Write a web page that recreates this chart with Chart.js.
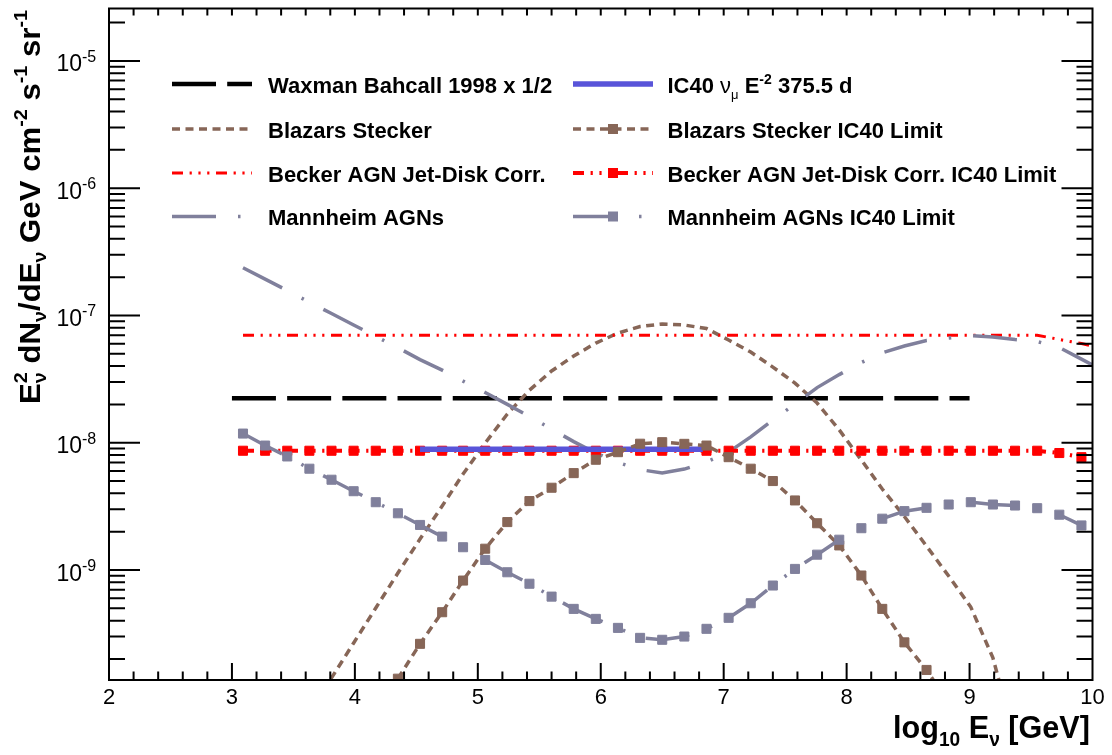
<!DOCTYPE html>
<html>
<head>
<meta charset="utf-8">
<title>IC40 AGN neutrino limits</title>
<script src="https://cdn.jsdelivr.net/npm/chart.js@4.4.1/dist/chart.umd.min.js"></script>
<style>
  html, body { margin: 0; padding: 0; background: #fff; overflow: hidden; }
  #wrap { width: 1112px; height: 755px; position: relative; }
</style>
</head>
<body>
<div id="wrap"><canvas id="fluxChart"></canvas></div>
<script>
// energy axis is log10(E / GeV); IC40 limits are given at these bin centres
const binCentres = [3.09, 3.27, 3.45, 3.63, 3.81, 3.99, 4.17, 4.35, 4.53, 4.71,
                    4.88, 5.06, 5.24, 5.42, 5.60, 5.78, 5.96, 6.14, 6.32, 6.50,
                    6.68, 6.86, 7.04, 7.22, 7.40, 7.58, 7.76, 7.94, 8.12, 8.29,
                    8.47, 8.65, 8.83, 9.01, 9.19, 9.37, 9.55, 9.73, 9.91];
// the model curves run on to the edge of the axis
const modelE = binCentres.concat([10.0]);

// Waxman Bahcall bound, halved
const wbE = [3.0, 9.0];
const wbFlux = [2.24e-8, 2.24e-8];

// IC40 numu E^-2 limit, 375.5 days
const ic40E = [4.53, 6.83];
const ic40Flux = [8.87e-9, 8.87e-9];

// E^2 dN/dE in GeV cm^-2 s^-1 sr^-1
const blazarsModel = [null, null, null, 7.5e-11, 1.42e-10, 2.67e-10, 5.03e-10, 9.47e-10, 1.75e-9, 3.18e-9,
                      5.68e-9, 9.95e-9, 1.68e-8, 2.59e-8, 3.66e-8, 4.80e-8, 6.07e-8, 7.27e-8, 8.18e-8, 8.56e-8,
                      8.41e-8, 7.89e-8, 6.41e-8, 5.16e-8, 3.93e-8, 2.94e-8, 2.05e-8, 1.26e-8, 7.31e-9, 4.33e-9,
                      2.63e-9, 1.54e-9, 8.97e-10, 5.12e-10, 2.04e-10, 4.6e-11, null, null, null];
const blazarsLimit = [null, null, null, null, null, null, null, 1.40e-10, 2.63e-10, 4.66e-10,
                      8.26e-10, 1.47e-9, 2.38e-9, 3.48e-9, 4.43e-9, 5.77e-9, 7.35e-9, 8.43e-9, 9.82e-9, 1.01e-8,
                      9.8e-9, 9.5e-9, 7.7e-9, 6.25e-9, 5.0e-9, 3.52e-9, 2.33e-9, 1.56e-9, 9.05e-10, 4.95e-10,
                      2.70e-10, 1.64e-10, 9.0e-11, null, null, null, null, null, null];
const beckerModel = [7.0e-8, 7.0e-8, 7.0e-8, 7.0e-8, 7.0e-8, 7.0e-8, 7.0e-8, 7.0e-8, 7.0e-8, 7.0e-8,
                     7.0e-8, 7.0e-8, 7.0e-8, 7.0e-8, 7.0e-8, 7.0e-8, 7.0e-8, 7.0e-8, 7.0e-8, 7.0e-8,
                     7.0e-8, 7.0e-8, 7.0e-8, 7.0e-8, 7.0e-8, 7.0e-8, 7.0e-8, 7.0e-8, 7.0e-8, 7.0e-8,
                     7.0e-8, 7.0e-8, 7.0e-8, 7.0e-8, 7.0e-8, 7.0e-8, 7.0e-8, 6.47e-8, 6.01e-8, 5.75e-8];
const beckerLimit = [8.65e-9, 8.65e-9, 8.65e-9, 8.65e-9, 8.65e-9, 8.65e-9, 8.65e-9, 8.65e-9, 8.65e-9, 8.65e-9,
                     8.65e-9, 8.65e-9, 8.65e-9, 8.65e-9, 8.65e-9, 8.65e-9, 8.65e-9, 8.65e-9, 8.65e-9, 8.65e-9,
                     8.65e-9, 8.65e-9, 8.65e-9, 8.65e-9, 8.65e-9, 8.65e-9, 8.65e-9, 8.65e-9, 8.65e-9, 8.65e-9,
                     8.65e-9, 8.65e-9, 8.65e-9, 8.65e-9, 8.65e-9, 8.65e-9, 8.65e-9, 8.3e-9, 7.7e-9];
const mannheimModel = [2.37e-7, 1.93e-7, 1.57e-7, 1.27e-7, 1.035e-7, 8.41e-8, 6.85e-8, 5.58e-8, 4.50e-8, 3.72e-8,
                       3.05e-8, 2.48e-8, 2.00e-8, 1.61e-8, 1.28e-8, 1.02e-8, 8.3e-9, 6.99e-9, 6.15e-9, 5.78e-9,
                       6.21e-9, 7.05e-9, 8.45e-9, 1.11e-8, 1.51e-8, 2.01e-8, 2.71e-8, 3.43e-8, 4.27e-8, 5.09e-8,
                       5.75e-8, 6.35e-8, 6.65e-8, 6.95e-8, 6.77e-8, 6.47e-8, 6.24e-8, 5.60e-8, 4.54e-8, 4.08e-8];
const mannheimLimit = [1.18e-8, 9.5e-9, 7.8e-9, 6.25e-9, 5.12e-9, 4.16e-9, 3.41e-9, 2.79e-9, 2.26e-9, 1.83e-9,
                       1.51e-9, 1.20e-9, 9.6e-10, 7.8e-10, 6.18e-10, 4.95e-10, 4.13e-10, 3.51e-10, 2.93e-10, 2.83e-10,
                       3.0e-10, 3.45e-10, 4.21e-10, 5.48e-10, 7.55e-10, 1.02e-9, 1.32e-9, 1.73e-9, 2.13e-9, 2.53e-9,
                       2.90e-9, 3.08e-9, 3.27e-9, 3.41e-9, 3.27e-9, 3.21e-9, 3.06e-9, 2.72e-9, 2.24e-9];

const seriesNames = ['Waxman Bahcall 1998 x 1/2', 'IC40 νμ E-2 375.5 d',
                     'Blazars Stecker', 'Blazars Stecker IC40 Limit',
                     'Becker AGN Jet-Disk Corr.', 'Becker AGN Jet-Disk Corr. IC40 Limit',
                     'Mannheim AGNs', 'Mannheim AGNs IC40 Limit'];

const xTickLabels = ['2', '3', '4', '5', '6', '7', '8', '9', '10'];
const yDecades = [1e-9, 1e-8, 1e-7, 1e-6, 1e-5];
const yTickExponents = ['-9', '-8', '-7', '-6', '-5'];

const FONT = '"Liberation Sans", Arial, Helvetica, sans-serif';
const BROWN = '#876657';
const RED = '#ff0000';
const GREY = '#80809c';
const BLUE = '#5954d9';
const dashBecker = [11, 6.6, 2.2, 6.6, 2.2, 6.6, 2.2, 6.6];
const dashMannheim = [44, 22, 2.5, 22];
const dashBlazars = [8, 5.5];

function points(xs, ys) {
  var out = [];
  for (var i = 0; i < ys.length; i++) {
    if (ys[i] !== null) out.push({ x: xs[i], y: ys[i] });
  }
  return out;
}

// draws text pieces along one baseline (sub/superscripts via dy), returns width
function drawRuns(ctx, runs, x, y, measureOnly) {
  var cx = x;
  for (const r of runs) {
    ctx.font = (r.bold === false ? '' : 'bold ') + r.size + 'px ' + FONT;
    if (!measureOnly) ctx.fillText(r.t, cx, y + (r.dy || 0));
    if (!r.stack) cx += ctx.measureText(r.t).width;
  }
  return cx - x;
}

const ic40Runs = [
  { t: 'IC40 ', size: 22 }, { t: 'ν', size: 22, bold: false }, { t: 'μ', size: 13, dy: 6, bold: false },
  { t: ' E', size: 22 }, { t: '-2', size: 14, dy: -9 }, { t: ' 375.5 d', size: 22 }
];
const xTitleRuns = [
  { t: 'log', size: 32 }, { t: '10', size: 20, dy: 8 }, { t: ' E', size: 32 },
  { t: 'ν', size: 20, dy: 8 }, { t: ' [GeV]', size: 32 }
];
const yTitleRuns = [
  { t: 'E', size: 30 }, { t: '2', size: 19, dy: -13, stack: true }, { t: 'ν', size: 19, dy: 6 },
  { t: ' dN', size: 30 }, { t: 'ν', size: 19, dy: 6 }, { t: '/dE', size: 30 }, { t: 'ν', size: 19, dy: 6 },
  { t: ' GeV cm', size: 30 }, { t: '-2', size: 19, dy: -13 }, { t: ' s', size: 30 },
  { t: '-1', size: 19, dy: -13 }, { t: ' sr', size: 30 }, { t: '-1', size: 19, dy: -13 }
];

// frame, inward ticks, labels and titles
const frameAndText = {
  id: 'frameAndText',
  afterDraw(chart) {
    const ctx = chart.ctx, a = chart.chartArea;
    const xs = chart.scales.x, ys = chart.scales.y;
    ctx.save();
    ctx.strokeStyle = '#000';
    ctx.fillStyle = '#000';
    ctx.lineWidth = 2;
    ctx.setLineDash([]);
    ctx.beginPath();
    for (var i = 1; i < 40; i++) {
      var px = xs.getPixelForValue(2 + i / 5);
      var len = (i % 5 === 0) ? 17 : 8.5;
      ctx.moveTo(px, a.bottom); ctx.lineTo(px, a.bottom - len);
      ctx.moveTo(px, a.top); ctx.lineTo(px, a.top + 7);
    }
    for (var d = -10; d <= -5; d++) {
      for (var m = 1; m <= 9; m++) {
        var v = m * Math.pow(10, d);
        if (v < ys.min || v > ys.max) continue;
        var py = ys.getPixelForValue(v);
        var l = (m === 1) ? 31 : 16;
        ctx.moveTo(a.left, py); ctx.lineTo(a.left + l, py);
        ctx.moveTo(a.right, py); ctx.lineTo(a.right - l, py);
      }
    }
    ctx.stroke();
    ctx.strokeRect(a.left, a.top, a.right - a.left, a.bottom - a.top);

    // tick labels
    ctx.textBaseline = 'alphabetic';
    ctx.font = '22px ' + FONT;
    ctx.textAlign = 'center';
    xTickLabels.forEach(function (lab) {
      ctx.fillText(lab, xs.getPixelForValue(Number(lab)), 703.5);
    });
    yDecades.forEach(function (v, k) {
      var py = ys.getPixelForValue(v);
      ctx.font = '23px ' + FONT;
      ctx.textAlign = 'right';
      ctx.fillText('10', 82, py + 10.5);
      ctx.font = '16px ' + FONT;
      ctx.textAlign = 'left';
      ctx.fillText(yTickExponents[k], 82, py + 1);
    });

    // axis titles, squeezed to the span they take
    ctx.textAlign = 'left';
    var w = drawRuns(ctx, xTitleRuns, 0, 0, true);
    ctx.save();
    ctx.translate(1090, 738);
    ctx.scale(197 / w, 1);
    drawRuns(ctx, xTitleRuns, -w, 0);
    ctx.restore();

    w = drawRuns(ctx, yTitleRuns, 0, 0, true);
    ctx.save();
    ctx.translate(40, 404);
    ctx.rotate(-Math.PI / 2);
    ctx.scale(394 / w, 1);
    drawRuns(ctx, yTitleRuns, 0, 0);
    ctx.restore();

    // legend: two columns of four
    var rows = [84, 129, 173, 216.5];
    var sampleX = [172, 573];
    var textX = [268, 667.5];
    chart.data.datasets.forEach(function (ds, idx) {
      var col = idx % 2, row = Math.floor(idx / 2);
      var y = rows[row], x0 = sampleX[col];
      ctx.save();
      ctx.strokeStyle = ds.borderColor;
      ctx.lineWidth = ds.borderWidth;
      ctx.setLineDash(ds.borderDash || []);
      ctx.beginPath();
      ctx.moveTo(x0, y); ctx.lineTo(x0 + 80, y);
      ctx.stroke();
      if (ds.pointRadius > 0) {
        ctx.fillStyle = ds.borderColor;
        ctx.fillRect(x0 + 40 - 5, y - 5, 10, 10);
      }
      ctx.restore();
      ctx.fillStyle = '#000';
      ctx.textAlign = 'left';
      if (idx === 1) {
        drawRuns(ctx, ic40Runs, textX[col], y + 8.5);
      } else {
        ctx.font = 'bold 22px ' + FONT;
        ctx.fillText(ds.label, textX[col], y + 8.5);
      }
    });
    ctx.restore();
  }
};

// order: lower number is drawn on top
const datasets = [
  { label: seriesNames[0], data: points(wbE, wbFlux), borderColor: '#000000', borderWidth: 4.5,
    borderDash: [44, 11.2], pointRadius: 0, order: 8 },
  { label: seriesNames[1], data: points(ic40E, ic40Flux), borderColor: BLUE, borderWidth: 5.5,
    borderDash: [], pointRadius: 0, order: 3 },
  { label: seriesNames[2], data: points(binCentres, blazarsModel), borderColor: BROWN, borderWidth: 3.5,
    borderDash: dashBlazars, pointRadius: 0, order: 7 },
  { label: seriesNames[3], data: points(binCentres, blazarsLimit), borderColor: BROWN, borderWidth: 3.5,
    borderDash: dashBlazars, pointStyle: 'rect', pointRadius: 6.4, pointBorderWidth: 1,
    pointBackgroundColor: BROWN, pointBorderColor: BROWN, order: 2 },
  { label: seriesNames[4], data: points(modelE, beckerModel), borderColor: RED, borderWidth: 3,
    borderDash: dashBecker, pointRadius: 0, order: 6 },
  { label: seriesNames[5], data: points(binCentres, beckerLimit), borderColor: RED, borderWidth: 4,
    borderDash: dashBecker, pointStyle: 'rect', pointRadius: 6.4, pointBorderWidth: 1,
    pointBackgroundColor: RED, pointBorderColor: RED, order: 4 },
  { label: seriesNames[6], data: points(modelE, mannheimModel), borderColor: GREY, borderWidth: 3.5,
    borderDash: dashMannheim, pointRadius: 0, order: 5 },
  { label: seriesNames[7], data: points(binCentres, mannheimLimit), borderColor: GREY, borderWidth: 3.5,
    borderDash: dashMannheim, pointStyle: 'rect', pointRadius: 6.4, pointBorderWidth: 1,
    pointBackgroundColor: GREY, pointBorderColor: GREY, order: 1 }
];
datasets.forEach(function (ds) {
  ds.fill = false;
  ds.tension = 0;
  ds.clip = 0;
  ds.pointHoverRadius = 0;
});

const ctx = document.getElementById('fluxChart').getContext('2d');
const chart = new Chart(ctx, {
  type: 'line',
  data: { datasets: datasets },
  options: {
    responsive: true,
    maintainAspectRatio: false,
    animation: false,
    events: [],
    layout: { padding: { left: 109, top: 8.5, right: 19.5, bottom: 75 } },
    scales: {
      x: { type: 'linear', min: 2, max: 10, display: false },
      y: { type: 'logarithmic', min: 1.367e-10, max: 2.58e-5, display: false }
    },
    plugins: { legend: { display: false }, tooltip: { enabled: false } }
  },
  plugins: [frameAndText]
});
</script>
</body>
</html>
